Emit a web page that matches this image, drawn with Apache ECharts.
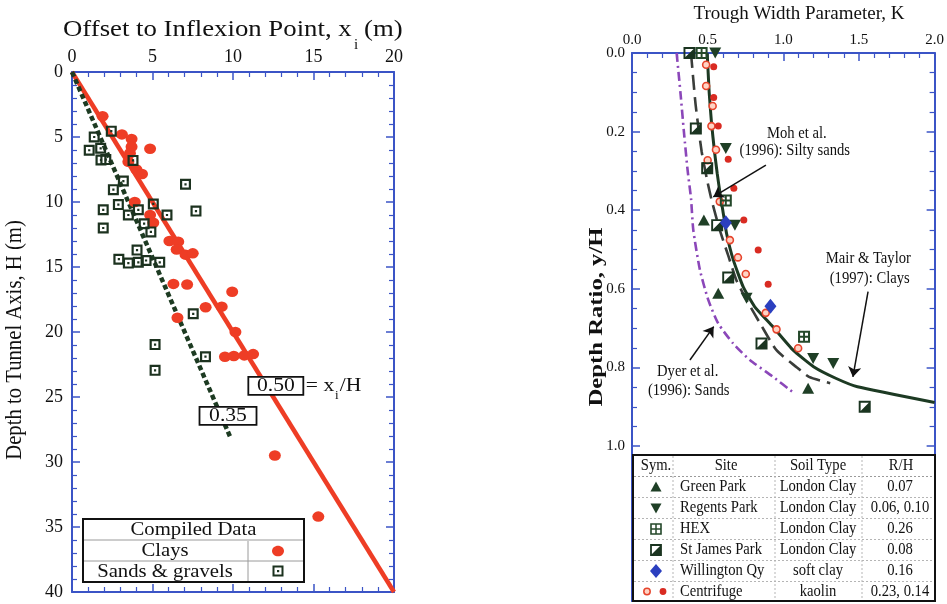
<!DOCTYPE html>
<html>
<head>
<meta charset="utf-8">
<script src="https://cdn.jsdelivr.net/npm/echarts@6/dist/echarts.min.js"></script>
<style>
  html, body { margin: 0; padding: 0; background: #fff; }
  #chart { width: 947px; height: 604px; }
</style>
</head>
<body>
<div id="chart"></div>
<script>
// ---------- Left panel: offset to inflexion point x_i vs depth to tunnel axis H ----------
const clays = [
  [1.9, 3.4], [3.1, 4.8], [3.7, 5.15], [4.85, 5.9], [3.7, 5.75], [3.6, 6.25], [3.5, 6.9], [4.0, 7.5],
  [4.35, 7.85], [3.9, 10.0], [4.85, 11.0], [5.05, 11.6], [6.05, 13.0], [6.6, 13.05], [6.5, 13.65],
  [7.05, 14.05], [7.5, 13.95], [6.3, 16.3], [7.15, 16.35], [9.95, 16.9], [8.3, 18.1], [9.3, 18.05],
  [6.55, 18.9], [10.15, 20.0], [9.5, 21.9], [10.05, 21.85], [10.7, 21.8], [11.25, 21.7],
  [12.6, 29.5], [15.3, 34.2]
];
const sandsGravels = [
  [2.44, 4.55], [1.38, 5.0], [1.07, 6.02], [1.78, 5.87], [1.8, 6.77], [2.1, 6.74], [3.79, 6.8],
  [3.19, 8.39], [2.57, 9.05], [7.05, 8.64], [2.88, 10.2], [1.94, 10.6], [5.05, 10.15], [4.12, 10.6],
  [3.5, 11.0], [5.9, 11.0], [7.7, 10.7], [1.94, 12.0], [4.48, 11.67], [4.9, 12.3], [4.04, 13.7],
  [2.91, 14.4], [3.5, 14.7], [4.12, 14.64], [4.6, 14.5], [5.45, 14.64], [7.53, 18.6], [5.16, 20.97],
  [8.29, 21.9], [5.16, 22.95]
];
const ratioValues = [0.50, 0.35];      // x_i / H for clays and for sands & gravels
const ratioLineEndDepth = [40, 28.2];  // depth H where each ratio line stops
const offsetTicks = [0, 5, 10, 15, 20];
const depthTicks = [0, 5, 10, 15, 20, 25, 30, 35, 40];

// ---------- Right panel: trough width parameter K vs depth ratio y/H ----------
const greenPark = [[0.475, 0.425], [0.57, 0.611], [1.164, 0.853]];
const regentsPark = [[0.55, 0.0], [0.62, 0.243], [0.68, 0.438], [0.757, 0.624], [1.197, 0.777], [1.33, 0.79]];
const hex = [[0.46, 0.0], [0.62, 0.375], [1.137, 0.722]];
const stJamesPark = [[0.38, 0.0], [0.422, 0.192], [0.497, 0.293], [0.563, 0.438], [0.636, 0.571], [0.856, 0.739], [1.538, 0.9]];
const willingtonQy = [[0.62, 0.432], [0.915, 0.644]];
const centrifuge023 = [
  [0.49, 0.03], [0.49, 0.084], [0.533, 0.135], [0.525, 0.186], [0.555, 0.246], [0.50, 0.273],
  [0.58, 0.378], [0.647, 0.476], [0.70, 0.52], [0.752, 0.562], [0.884, 0.661], [0.955, 0.703], [1.098, 0.751]
];
const centrifuge014 = [
  [0.54, 0.035], [0.54, 0.113], [0.57, 0.186], [0.636, 0.27], [0.673, 0.344], [0.739, 0.425], [0.834, 0.501], [0.90, 0.588]
];
const mairTaylorClays = [
  [0.497, 0], [0.51, 0.1], [0.526, 0.18], [0.545, 0.25], [0.563, 0.306], [0.583, 0.36], [0.60, 0.40],
  [0.625, 0.459], [0.67, 0.527], [0.735, 0.595], [0.81, 0.645], [0.93, 0.696], [1.065, 0.756],
  [1.2, 0.798], [1.35, 0.828], [1.49, 0.849], [2.0, 0.889]
];
const mohSiltySands = [
  [0.39, 0], [0.42, 0.13], [0.46, 0.25], [0.50, 0.33], [0.53, 0.38], [0.58, 0.45], [0.64, 0.52],
  [0.69, 0.578], [0.757, 0.628], [0.85, 0.69], [0.955, 0.756], [1.09, 0.80], [1.17, 0.824], [1.31, 0.84]
];
const dyerSands = [
  [0.295, 0], [0.32, 0.1], [0.343, 0.2], [0.368, 0.3], [0.39, 0.37], [0.405, 0.45], [0.449, 0.552],
  [0.504, 0.628], [0.57, 0.688], [0.669, 0.739], [0.779, 0.781], [0.933, 0.824], [1.06, 0.862]
];
const kTicks = ['0.0', '0.5', '1.0', '1.5', '2.0'];
const ratioTicks = ['0.0', '0.2', '0.4', '0.6', '0.8', '1.0'];

const siteTable = [
  ['Green Park', 'London Clay', '0.07'],
  ['Regents Park', 'London Clay', '0.06, 0.10'],
  ['HEX', 'London Clay', '0.26'],
  ['St James Park', 'London Clay', '0.08'],
  ['Willington Qy', 'soft clay', '0.16'],
  ['Centrifuge', 'kaolin', '0.23, 0.14']
];

// ---------- styling ----------
const FONT = '"Liberation Serif", "Times New Roman", serif';
const BLUE = '#3b54c6';
const RED = '#ee3d25';
const DARK = '#1c321f';

// outlined square with centre dot, square with cross, half-filled square
const SYM_SQUARE_DOT = 'path://M0,0L10,0L10,10L0,10Z M2,2L2,8L8,8L8,2Z M4,4L6,4L6,6L4,6Z';
const SYM_HEX = 'path://M0,0L10,0L10,10L0,10Z M1.7,1.7L1.7,4.2L4.2,4.2L4.2,1.7Z M5.8,1.7L5.8,4.2L8.3,4.2L8.3,1.7Z M1.7,5.8L1.7,8.3L4.2,8.3L4.2,5.8Z M5.8,5.8L5.8,8.3L8.3,8.3L8.3,5.8Z';
const SYM_HALF = 'path://M0,0L10,0L10,10L0,10Z M1.6,1.6L1.6,8.4L8.4,8.4L8.4,1.6Z M8.4,1.6L8.4,8.4L1.6,8.4Z';

function frameAxis(o) {
  return {
    type: 'value',
    gridIndex: o.grid,
    position: o.pos,
    min: o.min, max: o.max, interval: o.interval,
    inverse: !!o.inverse,
    splitLine: { show: false },
    axisLine: { show: true, onZero: false, lineStyle: { color: BLUE, width: 2 } },
    axisTick: { show: true, inside: true, length: 8, lineStyle: { color: BLUE, width: 1.5 } },
    minorTick: { show: true, splitNumber: o.minor, length: 5, lineStyle: { color: BLUE, width: 1.2 } },
    axisLabel: {
      show: !!o.labels, margin: o.margin || 6, color: '#111',
      fontFamily: FONT, fontSize: o.fontSize || 17,
      formatter: o.labels || undefined
    }
  };
}

const offsetStep = offsetTicks[1] - offsetTicks[0];
const depthStep = depthTicks[1] - depthTicks[0];
const kStep = parseFloat(kTicks[1]) - parseFloat(kTicks[0]);
const ratioStep = parseFloat(ratioTicks[1]) - parseFloat(ratioTicks[0]);
const ratioMaxLabel = parseFloat(ratioTicks[ratioTicks.length - 1]);

const offsetLabel = v => String(Math.round(v));
const kLabel = v => v.toFixed(1);
const ratioLabel = v => (v <= ratioMaxLabel + 1e-6 ? v.toFixed(1) : '');

const ratioLines = ratioValues.map((r, i) => [[0, 0], [r * ratioLineEndDepth[i], ratioLineEndDepth[i]]]);

const chart = echarts.init(document.getElementById('chart'), null, { renderer: 'canvas' });

const option = {
  animation: false,
  backgroundColor: '#fff',
  grid: [
    { left: 72, top: 72, width: 322, height: 520, containLabel: false },
    { left: 632, top: 53, width: 303, height: 548, containLabel: false }
  ],
  xAxis: [
    frameAxis({ grid: 0, pos: 'top', min: offsetTicks[0], max: offsetTicks[offsetTicks.length - 1], interval: offsetStep, minor: 5, labels: offsetLabel, margin: 6, fontSize: 18 }),
    frameAxis({ grid: 0, pos: 'bottom', min: offsetTicks[0], max: offsetTicks[offsetTicks.length - 1], interval: offsetStep, minor: 5 }),
    frameAxis({ grid: 1, pos: 'top', min: 0, max: parseFloat(kTicks[kTicks.length - 1]), interval: kStep, minor: 5, labels: kLabel, margin: 5, fontSize: 15 }),
    frameAxis({ grid: 1, pos: 'bottom', min: 0, max: parseFloat(kTicks[kTicks.length - 1]), interval: kStep, minor: 5 })
  ],
  yAxis: [
    frameAxis({ grid: 0, pos: 'left', inverse: true, min: depthTicks[0], max: depthTicks[depthTicks.length - 1], interval: depthStep, minor: 5, labels: offsetLabel, margin: 9, fontSize: 18 }),
    frameAxis({ grid: 0, pos: 'right', inverse: true, min: depthTicks[0], max: depthTicks[depthTicks.length - 1], interval: depthStep, minor: 5 }),
    frameAxis({ grid: 1, pos: 'left', inverse: true, min: 0, max: 1.394, interval: ratioStep, minor: 4, labels: ratioLabel, margin: 7, fontSize: 15 }),
    frameAxis({ grid: 1, pos: 'right', inverse: true, min: 0, max: 1.394, interval: ratioStep, minor: 4 })
  ],
  series: [
    // left panel
    {
      type: 'line', xAxisIndex: 0, yAxisIndex: 0, data: ratioLines[0], symbol: 'none',
      lineStyle: { color: RED, width: 4.5, cap: 'butt' }, z: 3
    },
    {
      type: 'line', xAxisIndex: 0, yAxisIndex: 0, data: ratioLines[1], symbol: 'none',
      lineStyle: { color: '#1d3b22', width: 4.5, type: [5, 3], cap: 'butt' }, z: 3
    },
    {
      type: 'scatter', xAxisIndex: 0, yAxisIndex: 0, data: clays, symbol: 'circle', symbolSize: [12, 10.5],
      itemStyle: { color: RED, opacity: 1 }, z: 4
    },
    {
      type: 'scatter', xAxisIndex: 0, yAxisIndex: 0, data: sandsGravels, symbol: SYM_SQUARE_DOT, symbolSize: 11,
      itemStyle: { color: DARK, opacity: 1 }, z: 5
    },
    // right panel: design curves
    {
      type: 'line', xAxisIndex: 2, yAxisIndex: 2, data: dyerSands, symbol: 'none', smooth: 0.2,
      lineStyle: { color: '#8b47b9', width: 2.6, type: [9, 4, 2, 4] }, z: 3
    },
    {
      type: 'line', xAxisIndex: 2, yAxisIndex: 2, data: mohSiltySands, symbol: 'none', smooth: 0.2,
      lineStyle: { color: '#3a3d3a', width: 2.6, type: [15, 7] }, z: 3
    },
    {
      type: 'line', xAxisIndex: 2, yAxisIndex: 2, data: mairTaylorClays, symbol: 'none', smooth: 0.15,
      lineStyle: { color: '#1d3a23', width: 3 }, z: 3
    },
    // right panel: field and centrifuge data
    {
      type: 'scatter', xAxisIndex: 2, yAxisIndex: 2, data: centrifuge023, symbol: 'circle', symbolSize: 7,
      itemStyle: { color: '#ffd3c4', borderColor: '#e6442c', borderWidth: 1.6, opacity: 1 }, z: 4
    },
    {
      type: 'scatter', xAxisIndex: 2, yAxisIndex: 2, data: centrifuge014, symbol: 'circle', symbolSize: 7,
      itemStyle: { color: '#d92b22', opacity: 1 }, z: 4
    },
    {
      type: 'scatter', xAxisIndex: 2, yAxisIndex: 2, data: greenPark, symbol: 'triangle', symbolSize: [12, 11],
      itemStyle: { color: '#1f3f26', opacity: 1 }, z: 5
    },
    {
      type: 'scatter', xAxisIndex: 2, yAxisIndex: 2, data: regentsPark, symbol: 'triangle', symbolRotate: 180, symbolSize: [12, 11],
      itemStyle: { color: '#1f3f26', opacity: 1 }, z: 5
    },
    {
      type: 'scatter', xAxisIndex: 2, yAxisIndex: 2, data: hex, symbol: SYM_HEX, symbolSize: 12,
      itemStyle: { color: '#24482a', opacity: 1 }, z: 5
    },
    {
      type: 'scatter', xAxisIndex: 2, yAxisIndex: 2, data: stJamesPark, symbol: SYM_HALF, symbolSize: 12,
      itemStyle: { color: '#1a3420', opacity: 1 }, z: 5
    },
    {
      type: 'scatter', xAxisIndex: 2, yAxisIndex: 2, data: willingtonQy, symbol: 'diamond', symbolSize: [12, 15],
      itemStyle: { color: '#2b3fbf', opacity: 1 }, z: 5
    },
    // pointers from the curve captions
    {
      type: 'lines', coordinateSystem: 'cartesian2d', xAxisIndex: 2, yAxisIndex: 2,
      symbol: ['none', 'arrow'], symbolSize: 10,
      lineStyle: { color: '#111', width: 1.5, opacity: 1 },
      data: [
        { coords: [[0.885, 0.285], [0.537, 0.366]] },
        { coords: [[1.56, 0.607], [1.46, 0.824]] },
        { coords: [[0.383, 0.781], [0.54, 0.696]] }
      ],
      z: 6
    }
  ]
};
chart.setOption(option);

// ---------- text, tables and callouts ----------
function T(x, y, s, o) {
  o = o || {};
  return {
    type: 'text', x: x, y: y, rotation: o.rot || 0, scaleX: o.sx || 1, z: 100,
    style: {
      text: s, fill: '#111',
      font: (o.bold ? 'bold ' : '') + (o.size || 17) + 'px ' + FONT,
      align: o.align || 'center', verticalAlign: 'middle'
    }
  };
}
function R(x, y, w, h, o) {
  o = o || {};
  return { type: 'rect', z: o.z || 99, shape: { x: x, y: y, width: w, height: h },
    style: { fill: o.fill || '#fff', stroke: o.stroke || '#111', lineWidth: o.lw || 2 } };
}
function L(x1, y1, x2, y2, o) {
  o = o || {};
  return { type: 'line', z: o.z || 100, shape: { x1: x1, y1: y1, x2: x2, y2: y2 },
    style: { stroke: o.stroke || '#9a9a9a', lineWidth: o.lw || 1, lineDash: o.dash || null } };
}

const g = [];

// titles
g.push(T(63, 30, 'Offset to Inflexion Point, x', { size: 24, sx: 1.115, align: 'left' }));
g.push(T(356, 45, 'i', { size: 15 }));
g.push(T(364, 30, '(m)', { size: 24, sx: 1.115, align: 'left' }));
g.push(T(15, 340, 'Depth to Tunnel Axis, H (m)', { size: 23, sx: 0.9, rot: Math.PI / 2 }));
g.push(T(799, 14, 'Trough Width Parameter, K', { size: 19 }));
g.push(T(597, 317, 'Depth Ratio, y/H', { size: 19, bold: true, sx: 1.3, rot: Math.PI / 2 }));

// ratio labels on the left panel
const p50 = chart.convertToPixel({ seriesIndex: 0 }, [12.66, 24.14]);
g.push(R(p50[0] - 27.5, p50[1] - 9, 55, 18, { lw: 1.8 }));
g.push(T(p50[0], p50[1], ratioValues[0].toFixed(2), { size: 18, sx: 1.2 }));
g.push(T(p50[0] + 30, p50[1], '= x', { size: 18, sx: 1.2, align: 'left' }));
g.push(T(p50[0] + 61, p50[1] + 10, 'i', { size: 13 }));
g.push(T(p50[0] + 64, p50[1], '/H', { size: 18, sx: 1.2, align: 'left' }));
const p35 = chart.convertToPixel({ seriesIndex: 1 }, [9.69, 26.45]);
g.push(R(p35[0] - 28.5, p35[1] - 9, 57, 18, { lw: 1.8 }));
g.push(T(p35[0], p35[1], ratioValues[1].toFixed(2), { size: 18, sx: 1.2 }));

// left legend table
g.push(R(83, 519, 221, 63));
g.push(L(84, 540, 303, 540));
g.push(L(84, 561, 303, 561));
g.push(L(248, 541, 248, 581));
g.push(T(193.5, 530, 'Compiled Data', { size: 19, sx: 1.09 }));
g.push(T(165, 551, 'Clays', { size: 19, sx: 1.09 }));
g.push(T(165, 572, 'Sands & gravels', { size: 19, sx: 1.09 }));
g.push({ type: 'ellipse', z: 101, shape: { cx: 278, cy: 551, rx: 6, ry: 5.3 }, style: { fill: RED } });
g.push({ type: 'rect', z: 101, shape: { x: 273.5, y: 566.5, width: 9, height: 9 }, style: { fill: '#fff', stroke: DARK, lineWidth: 2 } });
g.push({ type: 'rect', z: 102, shape: { x: 277, y: 570, width: 2.2, height: 2.2 }, style: { fill: DARK } });

// right panel curve captions
const cap = (k, d) => chart.convertToPixel({ seriesIndex: 6 }, [k, d]);
let c;
c = cap(1.089, 0.206); g.push(T(c[0], c[1], 'Moh et al.', { size: 17, sx: 0.86 }));
c = cap(1.076, 0.249); g.push(T(c[0], c[1], '(1996): Silty sands', { size: 17, sx: 0.86 }));
c = cap(1.562, 0.524); g.push(T(c[0], c[1], 'Mair & Taylor', { size: 17, sx: 0.86 }));
c = cap(1.571, 0.573); g.push(T(c[0], c[1], '(1997): Clays', { size: 17, sx: 0.86 }));
c = cap(0.368, 0.811); g.push(T(c[0], c[1], 'Dyer et al.', { size: 17, sx: 0.86 }));
c = cap(0.375, 0.858); g.push(T(c[0], c[1], '(1996): Sands', { size: 17, sx: 0.86 }));

// right site table
const tx = 633, ty = 455, tw = 302, th = 146;
g.push(R(tx, ty, tw, th));
const rowH = 21;
const headY = 466;
const dash = [2, 2];
g.push(L(tx + 1, 476.5, tx + tw - 1, 476.5, { dash: dash }));
for (let i = 1; i < siteTable.length; i++) {
  const y = 476.5 + i * rowH;
  g.push(L(tx + 1, y, tx + tw - 1, y, { dash: dash, stroke: '#b5b5b5' }));
}
[673, 775, 862].forEach(x => g.push(L(x, ty + 1, x, ty + th - 1, { dash: dash, stroke: '#b5b5b5' })));
g.push(T(656, headY, 'Sym.', { size: 17, sx: 0.86 }));
g.push(T(726, headY, 'Site', { size: 17, sx: 0.86 }));
g.push(T(818, headY, 'Soil Type', { size: 17, sx: 0.86 }));
g.push(T(901, headY, 'R/H', { size: 17, sx: 0.86 }));
siteTable.forEach((row, i) => {
  const y = 487 + i * rowH - (i === siteTable.length - 1 ? 0.5 : 0);
  g.push(T(680, y, row[0], { size: 17, sx: 0.86, align: 'left' }));
  g.push(T(818, y, row[1], { size: 17, sx: 0.86 }));
  g.push(T(900, y, row[2], { size: 17, sx: 0.86 }));
});
// table symbols
const sx0 = 656;
let sy = 487;
g.push({ type: 'polygon', z: 101, shape: { points: [[sx0, sy - 5.5], [sx0 + 5.5, sy + 4.5], [sx0 - 5.5, sy + 4.5]] }, style: { fill: '#1f3f26' } });
sy += rowH;
g.push({ type: 'polygon', z: 101, shape: { points: [[sx0 - 5.5, sy - 4.5], [sx0 + 5.5, sy - 4.5], [sx0, sy + 5.5]] }, style: { fill: '#1f3f26' } });
sy += rowH;
g.push({ type: 'rect', z: 101, shape: { x: sx0 - 5, y: sy - 5, width: 10, height: 10 }, style: { fill: '#fff', stroke: '#24482a', lineWidth: 1.6 } });
g.push(L(sx0, sy - 5, sx0, sy + 5, { stroke: '#24482a', lw: 1.5, z: 102 }));
g.push(L(sx0 - 5, sy, sx0 + 5, sy, { stroke: '#24482a', lw: 1.5, z: 102 }));
sy += rowH;
g.push({ type: 'rect', z: 101, shape: { x: sx0 - 5, y: sy - 5, width: 10, height: 10 }, style: { fill: '#fff', stroke: '#1a3420', lineWidth: 1.8 } });
g.push({ type: 'polygon', z: 102, shape: { points: [[sx0 + 5, sy - 5], [sx0 + 5, sy + 5], [sx0 - 5, sy + 5]] }, style: { fill: '#1a3420' } });
sy += rowH;
g.push({ type: 'polygon', z: 101, shape: { points: [[sx0, sy - 7], [sx0 + 6, sy], [sx0, sy + 7], [sx0 - 6, sy]] }, style: { fill: '#2b3fbf' } });
sy += rowH - 0.5;
g.push({ type: 'circle', z: 101, shape: { cx: 647, cy: sy, r: 3.2 }, style: { fill: '#ffd3c4', stroke: '#e6442c', lineWidth: 1.5 } });
g.push({ type: 'circle', z: 101, shape: { cx: 663, cy: sy, r: 3.4 }, style: { fill: '#d92b22' } });

chart.setOption({ graphic: { elements: g } });
</script>
</body>
</html>
